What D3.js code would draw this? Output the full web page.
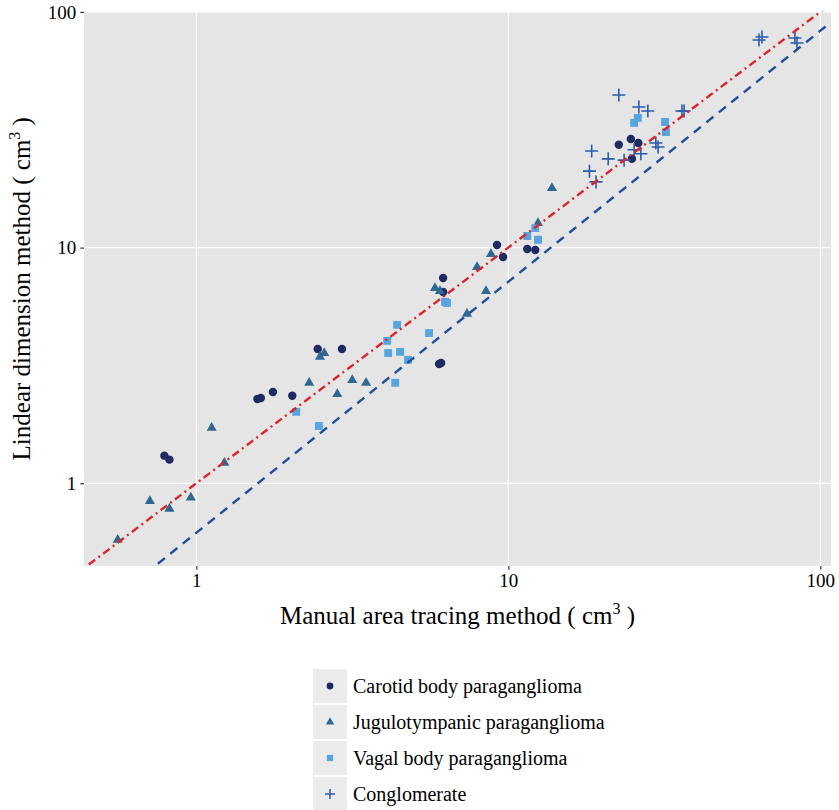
<!DOCTYPE html>
<html><head><meta charset="utf-8">
<script src="https://cdn.jsdelivr.net/npm/d3@7"></script>
<style>body{margin:0;background:#fff;} svg text{font-family:'Liberation Serif','Times New Roman','DejaVu Serif',serif !important;fill:#000;}</style>
</head><body><svg id="c" width="839" height="810" font-family="Liberation Serif, DejaVu Serif, serif"></svg>
<script>
// ---- data (manual area tracing [x], linear dimension [y], cm^3) ----
const carotid = [[0.79,1.31],[0.82,1.26],[1.57,2.28],[1.61,2.30],[1.76,2.44],[2.03,2.35],[2.45,3.71],[2.93,3.71],
  [6.0,3.21],[6.09,3.24],[6.18,7.43],[6.18,6.48],[9.2,10.26],[9.62,9.12],[11.5,9.86],[12.2,9.77],
  [22.6,27.3],[24.7,28.9],[26.1,27.8],[24.9,23.8]];
const jugulotympanic = [[0.56,0.575],[0.71,0.84],[0.82,0.78],[0.96,0.87],[1.12,1.72],[1.23,1.22],[2.30,2.67],[2.49,3.44],
  [2.57,3.57],[2.83,2.39],[3.16,2.74],[3.50,2.67],[5.82,6.74],[6.04,6.54],[7.37,5.23],[7.94,8.27],[8.48,6.54],
  [8.80,9.39],[12.45,12.7],[13.8,17.9]];
const vagal = [[2.09,2.01],[2.47,1.75],[4.09,4.02],[4.40,4.70],[4.12,3.57],[4.50,3.61],[4.77,3.34],[4.34,2.67],
  [5.57,4.34],[6.27,5.88],[6.36,5.82],[11.5,11.2],[12.2,12.1],[12.45,10.8],[25.3,33.8],[26.0,35.5],[31.8,34.1],[32.0,30.9]];
const conglomerate = [[22.6,44.4],[26.2,39.5],[28.0,38.0],[36.0,38.0],[36.6,38.0],[18.5,25.7],[20.9,23.8],[23.5,23.5],
  [25.3,26.0],[26.6,25.0],[29.7,27.8],[30.2,26.7],[18.2,21.1],[19.1,19.0],[63.6,76.0],[65.0,78.3],[82.9,77.5],[84.2,73.8]];
const seriesNames = ["Carotid body paraganglioma","Jugulotympanic paraganglioma","Vagal body paraganglioma","Conglomerate"];
const xTicks = [1,10,100];
const yTicks = [1,10,100];
// identity line y = x ; fitted line log10(y) = fitIntercept + fitSlope*log10(x)
const fitIntercept = -0.21, fitSlope = 1.065;

// ---- layout ----
const FONT = "'Liberation Serif','Times New Roman','DejaVu Serif',serif";
const svg = d3.select("#c");
const P = {l:84, r:831, t:11.5, b:566};
const x = d3.scaleLog().domain([0.4365,108.2]).range([P.l,P.r]);
const y = d3.scaleLog().domain([0.4457,100.4]).range([P.b,P.t]);

svg.append("defs").append("clipPath").attr("id","clip").append("rect")
  .attr("x",P.l).attr("y",P.t).attr("width",P.r-P.l).attr("height",P.b-P.t);

svg.append("rect").attr("x",P.l).attr("y",P.t).attr("width",P.r-P.l).attr("height",P.b-P.t).attr("fill","#E5E5E5");

const grid = svg.append("g");
grid.selectAll(".gx").data(xTicks).join("line").attr("x1",d=>x(d)).attr("x2",d=>x(d)).attr("y1",P.t).attr("y2",P.b)
  .attr("stroke","#fff").attr("stroke-width",1.2);
grid.selectAll(".gy").data(yTicks).join("line").attr("y1",d=>y(d)).attr("y2",d=>y(d)).attr("x1",P.l).attr("x2",P.r)
  .attr("stroke","#fff").attr("stroke-width",1.2);

// axes
const xAxis = svg.append("g").attr("transform",`translate(0,${P.b})`)
  .call(d3.axisBottom(x).tickValues(xTicks).tickFormat(d3.format("d")).tickSize(3.7).tickPadding(4));
const yAxis = svg.append("g").attr("transform",`translate(${P.l},0)`)
  .call(d3.axisLeft(y).tickValues(yTicks).tickFormat(d3.format("d")).tickSize(3.7).tickPadding(4));
[xAxis,yAxis].forEach(a=>{
  a.attr("font-family",FONT);
  a.select(".domain").remove();
  a.selectAll(".tick line").attr("stroke","#333").attr("stroke-width",1.2);
  a.selectAll(".tick text").attr("font-family",FONT).style("font-family",FONT).style("font-size","19px").attr("fill","#000");
});

// points
const colors = ["#1F2A62","#2F6890","#56A5DE","#2A5CAA"];
const pts = svg.append("g").attr("clip-path","url(#clip)");
pts.selectAll(".c").data(carotid).join("path")
  .attr("d",d3.symbol().type(d3.symbolCircle).size(56))
  .attr("transform",d=>`translate(${x(d[0])},${y(d[1])})`).attr("fill",colors[0]);
pts.selectAll(".t").data(jugulotympanic).join("path")
  .attr("d",d3.symbol().type(d3.symbolTriangle).size(44))
  .attr("transform",d=>`translate(${x(d[0])},${y(d[1])})`).attr("fill",colors[1]);
pts.selectAll(".s").data(vagal).join("path")
  .attr("d",d3.symbol().type(d3.symbolSquare).size(62))
  .attr("transform",d=>`translate(${x(d[0])},${y(d[1])})`).attr("fill",colors[2]);
pts.selectAll(".p").data(conglomerate).join("path")
  .attr("d","M-6.5,0H6.5M0,-6.5V6.5")
  .attr("transform",d=>`translate(${x(d[0])},${y(d[1])})`).attr("stroke",colors[3]).attr("stroke-width",1.6).attr("fill","none");

// lines
const lines = svg.append("g").attr("clip-path","url(#clip)");
const xd = x.domain();
lines.append("line").attr("x1",x(xd[0])).attr("y1",y(xd[0])).attr("x2",x(xd[1])).attr("y2",y(xd[1]))
  .attr("stroke","#D9252B").attr("stroke-width",2.4).attr("stroke-dasharray","2,4,8,4");
const fit = v => Math.pow(10, fitIntercept + fitSlope*Math.log10(v));
lines.append("line").attr("x1",x(0.3)).attr("y1",y(fit(0.3))).attr("x2",x(xd[1])).attr("y2",y(fit(xd[1])))
  .attr("stroke","#1F4E9A").attr("stroke-width",2.4).attr("stroke-dasharray","9,7");

// axis titles
const xt = svg.append("text").attr("x",(P.l+P.r)/2).attr("y",624).attr("text-anchor","middle")
  .style("font-family",FONT).style("font-size","25px");
xt.append("tspan").text("Manual area tracing method ( cm");
xt.append("tspan").attr("dy",-10).style("font-size","16px").text("3");
xt.append("tspan").attr("dy",10).text(" )");
const yt = svg.append("text").attr("transform",`translate(30,${(P.t+P.b)/2}) rotate(-90)`).attr("text-anchor","middle")
  .style("font-family",FONT).style("font-size","25px");
yt.append("tspan").text("Lindear dimension method ( cm");
yt.append("tspan").attr("dy",-10).style("font-size","16px").text("3");
yt.append("tspan").attr("dy",10).text(" )");

// legend
const lg = svg.append("g");
const keyTypes = ["circle","triangle","square","plus"];
seriesNames.forEach((name,i)=>{
  const g = lg.append("g").attr("transform",`translate(313,${669+36*i})`);
  g.append("rect").attr("width",34).attr("height",34).attr("fill","#EBEBEB");
  const t = keyTypes[i];
  if(t==="plus"){
    g.append("path").attr("d","M-5,0H5M0,-5V5").attr("transform","translate(17,17)").attr("stroke",colors[i]).attr("stroke-width",1.5);
  } else {
    const sym = t==="circle"?d3.symbolCircle:t==="triangle"?d3.symbolTriangle:d3.symbolSquare;
    const sz = t==="circle"?36:t==="triangle"?30:40;
    g.append("path").attr("d",d3.symbol().type(sym).size(sz)).attr("transform","translate(17,17)").attr("fill",colors[i]);
  }
  g.append("text").attr("x",40).attr("y",24).style("font-family",FONT).style("font-size","20px").text(name);
});
</script></body></html>
